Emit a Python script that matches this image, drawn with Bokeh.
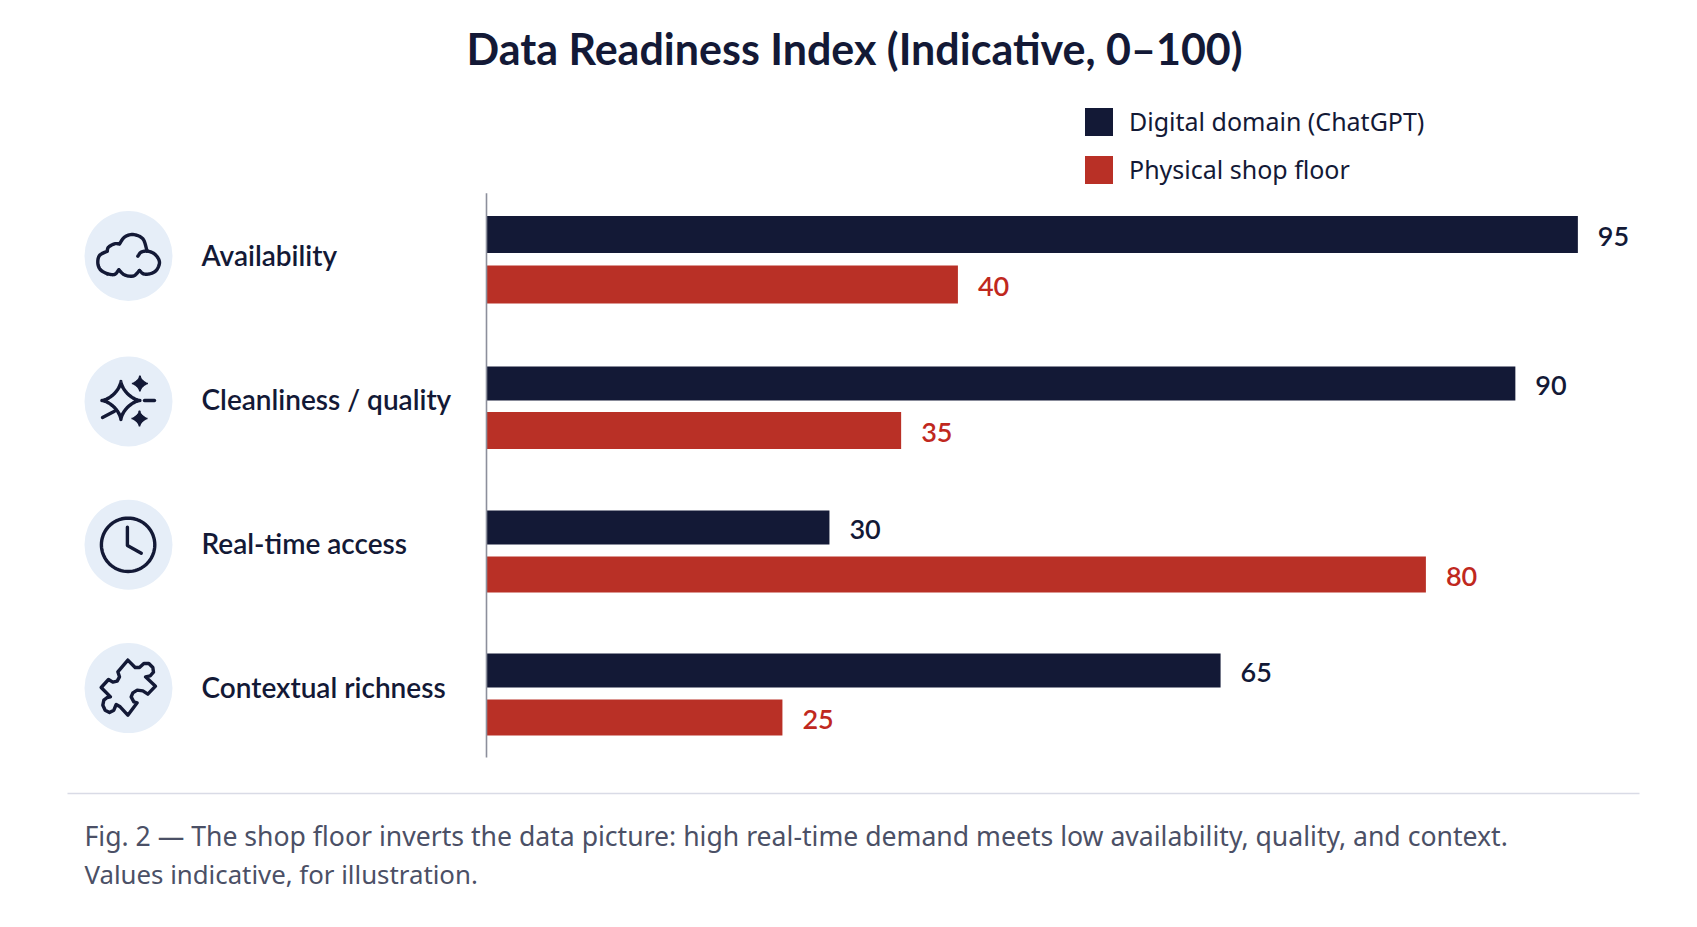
import numpy as np
from bokeh.plotting import figure
from bokeh.models import ColumnDataSource, Range1d
from bokeh.core.properties import value
from bokeh.embed import file_html
from bokeh.resources import INLINE

# ---- data ----
title = "Data Readiness Index (Indicative, 0\u2013100)"
categories = ["Availability", "Cleanliness / quality", "Real-time access", "Contextual richness"]
series_names = ["Digital domain (ChatGPT)", "Physical shop floor"]
digital_labels = ["95", "90", "30", "65"]
physical_labels = ["40", "35", "80", "25"]
digital_lengths = [95.15, 89.7, 29.9, 64.0]
physical_lengths = [41.1, 36.15, 81.9, 25.8]
caption = ["Fig. 2 \u2014 The shop floor inverts the data picture: high real-time demand meets low availability, quality, and context.",
           "Values indicative, for illustration."]

NAVY = "#131936"; RED = "#b93026"; PALE = "#e6eef8"; GREY = "#4b5066"
W, H = 1681, 911
T = 84            # canvas y of plot frame top
SHIFT = 1
PX_PER_UNIT = 11.47; AXIS_X = 487 - SHIFT
ROW0 = 259; PX_PER_ROW = 144.8

x_range = Range1d((0 - AXIS_X) / PX_PER_UNIT, (W - AXIS_X) / PX_PER_UNIT)
y_range = Range1d((H - ROW0) / PX_PER_ROW, (T - ROW0) / PX_PER_ROW)
p = figure(width=W, height=H, x_range=x_range, y_range=y_range, output_backend="svg",
           toolbar_location=None, min_border=0, min_border_left=0, min_border_right=0,
           min_border_top=T, min_border_bottom=0, outline_line_color=None, title=title,
           background_fill_color="white", border_fill_color="white")
p.extra_x_ranges["px"] = Range1d(SHIFT, W + SHIFT)
p.extra_y_ranges["px"] = Range1d(H, T)
p.axis.visible = False
p.grid.visible = False
p.title.align = "left"; p.title.offset = 466
p.title.text_font = "Lato"; p.title.text_font_size = "43px"
p.title.text_font_style = "bold"; p.title.text_color = NAVY
p.title.vertical_align = "bottom"; p.title.standoff = 22

PX = dict(x_range_name="px", y_range_name="px")
MEDIUM = value("Lato Semibold, Lato Medium, Noto Sans")

# layout of the rows (positions in row units)
rows = np.array([0, 1.018, 2.013, 3.0])
half_gap = np.array([25, 23.5, 23.5, 23.5]) / PX_PER_ROW
navy_h = np.array([37, 34, 34, 34]) / PX_PER_ROW
red_h = np.array([38, 37, 36, 36]) / PX_PER_ROW

s1 = ColumnDataSource(dict(y=rows - half_gap, right=digital_lengths, h=navy_h, lab=digital_labels))
s2 = ColumnDataSource(dict(y=rows + half_gap, right=physical_lengths, h=red_h, lab=physical_labels))
p.hbar(y="y", left=0, right="right", height="h", source=s1, color=NAVY, line_color=None, legend_label=series_names[0])
p.hbar(y="y", left=0, right="right", height="h", source=s2, color=RED, line_color=None, legend_label=series_names[1])
p.segment(x0=[0], x1=[0], y0=[(192.7 - ROW0) / PX_PER_ROW], y1=[(757 - ROW0) / PX_PER_ROW], line_color="#8c8f9c", line_width=1.6)

for src, col in ((s1, NAVY), (s2, "#c0281e")):
    p.text(x="right", y="y", text="lab", source=src, x_offset=20, y_offset=2, text_baseline="middle",
           text_font=MEDIUM, text_font_size="27px", text_color=col)

lg = p.legend[0]
lg.location = (1081, H - 186.5); lg.margin = 0; lg.padding = 0
lg.border_line_color = None; lg.background_fill_alpha = 0
lg.glyph_width = 35; lg.glyph_height = 35; lg.spacing = 13; lg.label_standoff = 13
lg.label_text_font = "Noto Sans"; lg.label_text_font_size = "25px"; lg.label_text_color = NAVY
lg.label_height = 35

# icon column
icon_x = 129
icon_y = [255.5, 401, 544.3, 687.6]
p.ellipse(x=[icon_x] * 4, y=icon_y, width=88, height=90, fill_color=PALE, line_color=None, **PX)
p.text(x=[202] * 4, y=[254, 398, 542, 686], text=categories, text_baseline="middle",
       text_font=MEDIUM, text_font_size="28px", text_color=NAVY, **PX)

def smooth(pts, n=8):
    P = np.array(pts, float)
    P = np.vstack([2 * P[0] - P[1], P, 2 * P[-1] - P[-2]])
    out = []
    for i in range(1, len(P) - 2):
        for t in np.linspace(0, 1, n, endpoint=False):
            a, b, c, d = P[i - 1], P[i], P[i + 1], P[i + 2]
            out.append(0.5 * (2 * b + (c - a) * t + (2 * a - 5 * b + 4 * c - d) * t ** 2 + (3 * b - a - 3 * c + d) * t ** 3))
    out.append(P[-2])
    return np.array(out)

paths = []
def add(arr, ox=0, oy=0, k=1.0):
    arr = np.asarray(arr, float)
    paths.append((arr[:, 0] * k + ox, arr[:, 1] * k + oy))

# cloud (crop origin 85,210 at 3x)
for seg in ([(68, 190), (48, 178), (40, 158), (45, 135), (68, 122)],
            [(68, 122), (72, 110), (90, 100), (105, 100)],
            [(105, 100), (120, 80), (145, 72), (175, 85), (188, 122)],
            [(160, 137), (170, 125), (190, 122), (212, 132), (225, 155), (215, 180), (195, 190), (177, 190), (165, 180)],
            [(165, 180), (150, 195), (135, 197), (118, 192), (103, 178)],
            [(103, 178), (90, 192), (68, 190)]):
    add(smooth(seg), 85, 210, 1 / 3)

# sparkle
t = np.linspace(0, 2 * np.pi, 73)
def star_pts(cx, cy, a):
    return np.c_[cx + a * np.cos(t) ** 3, cy + a * np.sin(t) ** 3]
add(star_pts(121.4, 400, 19))
small = [star_pts(140.4, 383, 8), star_pts(140, 418, 8)]
p.patches(xs=[s[:, 0].tolist() for s in small], ys=[s[:, 1].tolist() for s in small],
          fill_color=NAVY, line_color=NAVY, line_width=1.5, **PX)
add([(145, 400), (155, 400)]); add([(103, 417), (115, 410.7)])

# clock
add(np.c_[128.6 + 26.7 * np.cos(t), 544.3 + 26.7 * np.sin(t)])
add([(127.9, 526.7), (127.9, 545), (141.8, 552.7)])

# puzzle (crop origin 85,643 at 3x)
add([(130, 50), (152, 72), (165, 72), (178, 60), (193, 60), (205, 72), (207, 86), (197, 97), (183, 100),
     (213, 128), (190, 152), (175, 142), (158, 140), (145, 148), (140, 160), (148, 175), (158, 178),
     (130, 215), (107, 190), (95, 183), (88, 200), (75, 207), (62, 200), (55, 185), (58, 170), (68, 162), (78, 160),
     (50, 132), (72, 108), (85, 116), (98, 113), (105, 100), (100, 85), (130, 50)], 85, 643, 1 / 3)

p.multi_line(xs=[a.tolist() for a, b in paths], ys=[b.tolist() for a, b in paths], line_color=NAVY,
             line_width=3.4, line_join="round", line_cap="round", **PX)

# rule + caption
p.segment(x0=[68], x1=[1640], y0=[793], y1=[793], line_color="#d9dbe6", line_width=1.6, **PX)
p.text(x=[85], y=[835], text=caption[:1], text_baseline="middle", text_font=value("Noto Sans"),
       text_font_size="26.6px", text_color=GREY, **PX)
p.text(x=[85], y=[873], text=caption[1:], text_baseline="middle", text_font=value("Noto Sans"),
       text_font_size="25.8px", text_color=GREY, **PX)

open("out.html", "w").write(file_html(p, INLINE))
